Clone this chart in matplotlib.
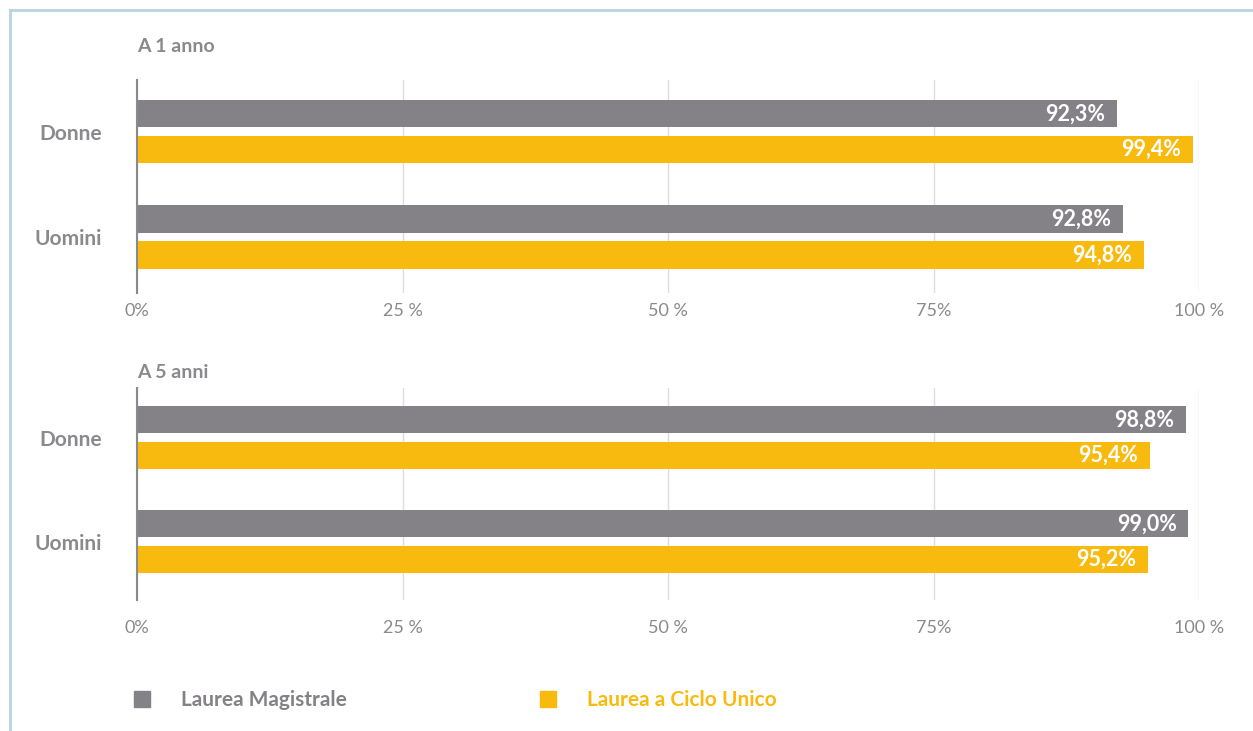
import matplotlib
matplotlib.use("Agg")
import numpy as np
from matplotlib import pyplot as plt
from matplotlib.lines import Line2D
from matplotlib.patches import Rectangle

# data
categories = ["Donne", "Uomini"]
panel_titles = ["A 1 anno", "A 5 anni"]
magistrale = [[92.3, 92.8], [98.8, 99.0]]
ciclo_unico = [[99.4, 94.8], [95.4, 95.2]]
tick_values = [0, 25, 50, 75, 100]
tick_labels = ["0%", "25 %", "50 %", "75%", "100 %"]
series_names = ["Laurea Magistrale", "Laurea a Ciclo Unico"]

GRAY = "#848287"
YELLOW = "#F9BA10"
TXT = "#8a898d"
FONT = "Lato"

W, H = 1253, 731
fig = plt.figure(figsize=(W / 100, H / 100), dpi=100)

# light blue frame (left + top)
fig.add_artist(Line2D([9.5 / W, 9.5 / W], [0, 1 - 9.5 / H], transform=fig.transFigure,
                      color="#b7d4e2", lw=2))
fig.add_artist(Line2D([9.5 / W, 1], [1 - 9.5 / H, 1 - 9.5 / H], transform=fig.transFigure,
                      color="#b7d4e2", lw=2))

# panel boxes in pixels: (top, bottom), y-limits, title y, tick pad
panels = [(80, 293), (388, 600)]
ylims = [(1.53, -0.49), (1.5625, -0.476)]
title_y = [47, 372]
tick_pad = [7.5, 14.5]
x0, x1 = 137, 1199

def fmt(v):
    return f"{v:.1f}".replace(".", ",") + "%"

for p, (top, bot) in enumerate(panels):
    ax = fig.add_axes([x0 / W, 1 - bot / H, (x1 - x0) / W, (bot - top) / H])
    y = np.arange(len(categories))
    off = 0.17
    bh = 0.26
    ax.barh(y - off, magistrale[p], height=bh, color=GRAY, zorder=3)
    ax.barh(y + off, ciclo_unico[p], height=bh, color=YELLOW, zorder=3)
    for i in range(len(categories)):
        ax.text(magistrale[p][i] - 1.1, y[i] - off, fmt(magistrale[p][i]), color="white",
                fontsize=15.5, fontweight="bold", family=FONT, ha="right", va="center", zorder=4)
        ax.text(ciclo_unico[p][i] - 1.1, y[i] + off, fmt(ciclo_unico[p][i]), color="white",
                fontsize=15.5, fontweight="bold", family=FONT, ha="right", va="center", zorder=4)
    ax.set_xlim(0, 100)
    ax.set_ylim(*ylims[p])
    ax.set_xticks(tick_values)
    ax.set_xticklabels(tick_labels, family=FONT, fontsize=13, color=TXT)
    ax.tick_params(axis="x", length=0, pad=tick_pad[p])
    ax.set_yticks(y)
    ax.set_yticklabels(categories, family=FONT, fontsize=15, fontweight="bold", color=TXT)
    ax.tick_params(axis="y", length=0, pad=25)
    ax.grid(axis="x", color="#dddddd", lw=1, zorder=0)
    for s in ["top", "right", "bottom"]:
        ax.spines[s].set_visible(False)
    ax.spines["left"].set_color("#8a8a8a")
    ax.spines["left"].set_linewidth(1.5)
    ax.spines["left"].set_zorder(5)
    ax.text(0, 1 + (top - title_y[p]) / (bot - top), panel_titles[p], transform=ax.transAxes,
            family=FONT, fontsize=14, fontweight="bold", color=TXT, ha="left", va="center")

# legend
for k, (name, col, xs, xt) in enumerate(zip(series_names, [GRAY, YELLOW], [134, 540], [181, 587])):
    fig.add_artist(Rectangle((xs / W, 1 - 707 / H), 16 / W, 16 / H, transform=fig.transFigure,
                             color=col))
    fig.text(xt / W, 1 - 700 / H, name, family=FONT, fontsize=15, fontweight="bold",
             color=col, ha="left", va="center")

fig.savefig("out.png", dpi=100, facecolor="white")
